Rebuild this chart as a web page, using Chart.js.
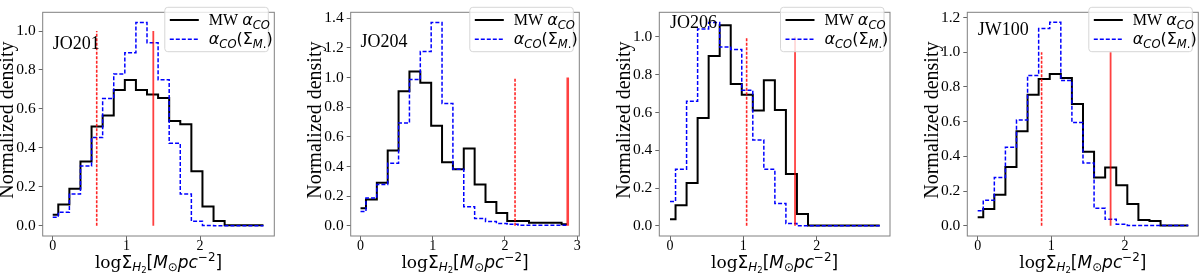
<!DOCTYPE html>
<html>
<head>
<meta charset="UTF-8">
<title>H2 surface density histograms</title>
<style>
  body { margin: 0; background: #fff; }
  #wrap { position: relative; width: 1200px; height: 273px; }
  canvas { position: absolute; top: 0; }
</style>
<script src="https://cdn.jsdelivr.net/npm/chart.js"></script>
</head>
<body>
<div id="wrap">
  <canvas id="c0" width="300" height="273" style="left:0px"></canvas>
  <canvas id="c1" width="300" height="273" style="left:300px"></canvas>
  <canvas id="c2" width="300" height="273" style="left:600px"></canvas>
  <canvas id="c3" width="300" height="273" style="left:900px"></canvas>
</div>
<script>
// bin centres (log Sigma_H2)
const binCenters = [0, 0.151, 0.301, 0.452, 0.602, 0.753, 0.903, 1.054, 1.204, 1.355,
                    1.505, 1.656, 1.806, 1.957, 2.107, 2.258, 2.408, 2.559, 2.709, 2.860];

const galaxies = ['JO201', 'JO204', 'JO206', 'JW100'];

// MW alpha_CO
const mwJO201 = [0.057, 0.11, 0.19, 0.33, 0.51, 0.566, 0.697, 0.749, 0.697, 0.674,
                 0.656, 0.538, 0.522, 0.28, 0.10, 0.025, 0.003, 0.003, 0.003, 0.003];
const mwJO204 = [0.118, 0.178, 0.29, 0.508, 0.907, 1.04, 0.965, 0.675, 0.429, 0.382,
                 0.521, 0.279, 0.161, 0.086, 0.032, 0.032, 0.021, 0.021, 0.021, 0.01];
const mwJO206 = [0.034, 0.109, 0.227, 0.571, 0.899, 1.062, 0.751, 0.694, 0.61, 0.77,
                 0.613, 0.274, 0.062, 0.002, 0.002, 0.002, 0.002, 0.002, 0.002, 0.002];
const mwJW100 = [0.049, 0.097, 0.178, 0.339, 0.544, 0.755, 0.846, 0.874, 0.852, 0.701,
                 0.427, 0.278, 0.335, 0.233, 0.125, 0.033, 0.027, 0.002, 0.002, 0.002];

// alpha_CO(Sigma_M*)
const smJO201 = [0.044, 0.07, 0.163, 0.307, 0.453, 0.653, 0.78, 0.889, 1.044, 0.94,
                 0.75, 0.424, 0.163, 0.024, 0.002, 0.0, 0.0, 0.0, 0.0, 0.0];
const smJO204 = [0.096, 0.187, 0.279, 0.422, 0.693, 0.986, 1.175, 1.372, 0.825, 0.382,
                 0.129, 0.049, 0.028, 0.015, 0.01, 0.003, 0.003, 0.003, 0.003, 0.003];
const smJO206 = [0.129, 0.299, 0.659, 1.042, 1.076, 0.946, 0.933, 0.718, 0.454, 0.299,
                 0.118, 0.012, 0.0, 0.0, 0.0, 0.0, 0.0, 0.0, 0.0, 0.0];
const smJW100 = [0.086, 0.147, 0.278, 0.452, 0.61, 0.866, 1.136, 1.172, 0.837, 0.595,
                 0.361, 0.101, 0.037, 0.009, 0.002, 0.002, 0.002, 0.002, 0.002, 0.002];

// red vertical markers
const dashedX = [0.597, 2.14, 1.045, 0.868];
const solidX  = [1.365, 2.87, 1.705, 1.805];
const markerTop = 1.0;

// tick labels
const xTicks = [[0, 1, 2], [0, 1, 2, 3], [0, 1, 2], [0, 1, 2]];
const yTicks = [[0, 0.2, 0.4, 0.6, 0.8, 1.0],
                [0, 0.2, 0.4, 0.6, 0.8, 1.0, 1.2, 1.4],
                [0, 0.2, 0.4, 0.6, 0.8, 1.0],
                [0, 0.2, 0.4, 0.6, 0.8, 1.0, 1.2]];

const mwSeries = [mwJO201, mwJO204, mwJO206, mwJW100];
const smSeries = [smJO201, smJO204, smJO206, smJW100];

// layout per panel (axis ranges, plot box in canvas px, galaxy label pos)
const layout = [
  { xmin: -0.136, xmax: 3.007, ymin: -0.052, ymax: 1.096, left: 42.7, right: 25.7, labelY: 0.93 },
  { xmin: -0.136, xmax: 3.03,  ymin: -0.069, ymax: 1.44,  left: 50.7, right: 20.7, labelY: 1.235 },
  { xmin: -0.146, xmax: 3.0,   ymin: -0.054, ymax: 1.13,  left: 59.3, right: 10.0, labelY: 1.07 },
  { xmin: -0.141, xmax: 2.996, ymin: -0.059, ymax: 1.23,  left: 67.3, right: 1.7,  labelY: 1.126 }
];

const SERIF = '"Liberation Serif", "Times New Roman", serif';
const MSERIF = '"DejaVu Serif", serif';
const MSANS = '"DejaVu Sans", sans-serif';

// draw a run of pieces: {t, font, italic, size (rel), dy (em of base)}
function richWidth(ctx, parts, base) {
  let w = 0;
  for (const p of parts) {
    ctx.font = (p.italic ? 'italic ' : '') + (base * (p.size || 1)) + 'px ' + p.font;
    w += ctx.measureText(p.t).width;
  }
  return w;
}
function drawRich(ctx, parts, x, y, base) {
  ctx.textBaseline = 'alphabetic';
  ctx.textAlign = 'left';
  for (const p of parts) {
    ctx.font = (p.italic ? 'italic ' : '') + (base * (p.size || 1)) + 'px ' + p.font;
    ctx.fillText(p.t, x, y + (p.dy || 0) * base);
    x += ctx.measureText(p.t).width;
  }
}

const xLabelParts = [
  { t: 'log', font: MSERIF },
  { t: 'Σ', font: MSANS },
  { t: 'H', font: MSANS, italic: true, size: 0.7, dy: 0.2 },
  { t: '2', font: MSANS, size: 0.5, dy: 0.32 },
  { t: '[', font: MSANS },
  { t: 'M', font: MSANS, italic: true },
  { t: '⊙', font: MSANS, size: 0.7, dy: 0.2 },
  { t: 'pc', font: MSANS, italic: true },
  { t: '−2', font: MSANS, size: 0.7, dy: -0.4 },
  { t: ']', font: MSANS }
];
const legMW = [
  { t: 'MW ', font: SERIF },
  { t: 'α', font: MSANS, italic: true },
  { t: 'CO', font: MSANS, italic: true, size: 0.72, dy: 0.22 }
];
const legSM = [
  { t: 'α', font: MSANS, italic: true },
  { t: 'CO', font: MSANS, italic: true, size: 0.72, dy: 0.22 },
  { t: '(Σ', font: MSANS },
  { t: 'M', font: MSANS, italic: true, size: 0.72, dy: 0.22 },
  { t: '.', font: MSANS, size: 0.72, dy: 0.22 },
  { t: ')', font: MSANS }
];

const decorations = {
  id: 'decorations',
  afterDatasetsDraw(chart, args, opts) {
    const ctx = chart.ctx;
    const a = chart.chartArea;
    const xs = chart.scales.x, ys = chart.scales.y;
    ctx.save();
    // frame
    ctx.strokeStyle = '#808080';
    ctx.lineWidth = 1;
    ctx.strokeRect(a.left, a.top, a.right - a.left, a.bottom - a.top);

    // galaxy name
    ctx.fillStyle = '#000';
    ctx.font = '18px ' + SERIF;
    ctx.textAlign = 'left';
    ctx.textBaseline = 'middle';
    ctx.fillText(opts.name, xs.getPixelForValue(0), ys.getPixelForValue(opts.labelY));

    // legend
    const lw = 103.5, lh = 44.4;
    const lx = a.right - 6 - lw, ly = 7.3;
    ctx.beginPath();
    ctx.roundRect(lx, ly, lw, lh, 3);
    ctx.fillStyle = 'rgba(255,255,255,0.8)';
    ctx.fill();
    ctx.strokeStyle = '#d6d6d6';
    ctx.stroke();
    const r1 = ly + 12.7, r2 = ly + 32;
    ctx.lineWidth = 2;
    ctx.strokeStyle = '#000';
    ctx.beginPath(); ctx.moveTo(lx + 5, r1); ctx.lineTo(lx + 34, r1); ctx.stroke();
    ctx.lineWidth = 1.5;
    ctx.strokeStyle = '#0000ff';
    ctx.setLineDash([4, 2]);
    ctx.beginPath(); ctx.moveTo(lx + 5, r2); ctx.lineTo(lx + 34, r2); ctx.stroke();
    ctx.setLineDash([]);
    ctx.fillStyle = '#000';
    drawRich(ctx, legMW, lx + 44, r1 + 5, 16);
    drawRich(ctx, legSM, lx + 44, r2 + 5, 16);

    // y label
    ctx.save();
    ctx.translate(a.left - 34.5, (a.top + a.bottom) / 2 - 4);
    ctx.rotate(-Math.PI / 2);
    ctx.font = '20px ' + SERIF;
    ctx.textAlign = 'center';
    ctx.textBaseline = 'middle';
    ctx.fillText('Normalized density', 0, 0);
    ctx.restore();

    // x label
    const base = 17;
    const w = richWidth(ctx, xLabelParts, base);
    drawRich(ctx, xLabelParts, (a.left + a.right) / 2 - w / 2, 268, base);
    ctx.restore();
  }
};

function makePanel(i) {
  const L = layout[i];
  const pts = arr => binCenters.map((x, k) => ({ x: x, y: arr[k] }));
  new Chart(document.getElementById('c' + i), {
    type: 'line',
    data: {
      datasets: [
        { data: pts(mwSeries[i]), borderColor: '#000', borderWidth: 2, stepped: 'middle',
          pointRadius: 0, fill: false, order: 3 },
        { data: pts(smSeries[i]), borderColor: '#0000ff', borderWidth: 1.5, borderDash: [4, 2],
          stepped: 'middle', pointRadius: 0, fill: false, order: 2 },
        { data: [{ x: dashedX[i], y: 0 }, { x: dashedX[i], y: markerTop }], borderColor: 'rgba(255,0,0,0.85)',
          borderWidth: 1.6, borderDash: [3, 1.5], pointRadius: 0, order: 1 },
        { data: [{ x: solidX[i], y: 0 }, { x: solidX[i], y: markerTop }], borderColor: 'rgba(255,0,0,0.75)',
          borderWidth: i === 1 ? 2.6 : 1.8, pointRadius: 0, order: 0 }
      ]
    },
    options: {
      responsive: false,
      animation: false,
      layout: { padding: { top: 1.7, right: L.right, left: 0, bottom: 0 } },
      plugins: {
        legend: { display: false },
        tooltip: { enabled: false },
        decorations: { name: galaxies[i], labelY: L.labelY }
      },
      scales: {
        x: {
          type: 'linear', min: L.xmin, max: L.xmax,
          afterBuildTicks: s => { s.ticks = xTicks[i].map(v => ({ value: v })); },
          afterFit: s => { s.height = 37; },
          grid: { drawOnChartArea: false, color: '#666', tickLength: 4 },
          border: { display: false },
          ticks: { color: '#000', font: { family: SERIF, size: 14 }, padding: -2,
                   maxRotation: 0, callback: v => String(v) }
        },
        y: {
          type: 'linear', min: L.ymin, max: L.ymax,
          afterBuildTicks: s => { s.ticks = yTicks[i].map(v => ({ value: v })); },
          afterFit: s => { s.width = L.left; },
          grid: { drawOnChartArea: false, color: '#666', tickLength: 4 },
          border: { display: false },
          ticks: { color: '#000', font: { family: SERIF, size: 15.5 }, padding: 3,
                   callback: v => v.toFixed(1) }
        }
      }
    },
    plugins: [decorations]
  });
}

for (let i = 0; i < 4; i++) makePanel(i);
</script>
</body>
</html>
